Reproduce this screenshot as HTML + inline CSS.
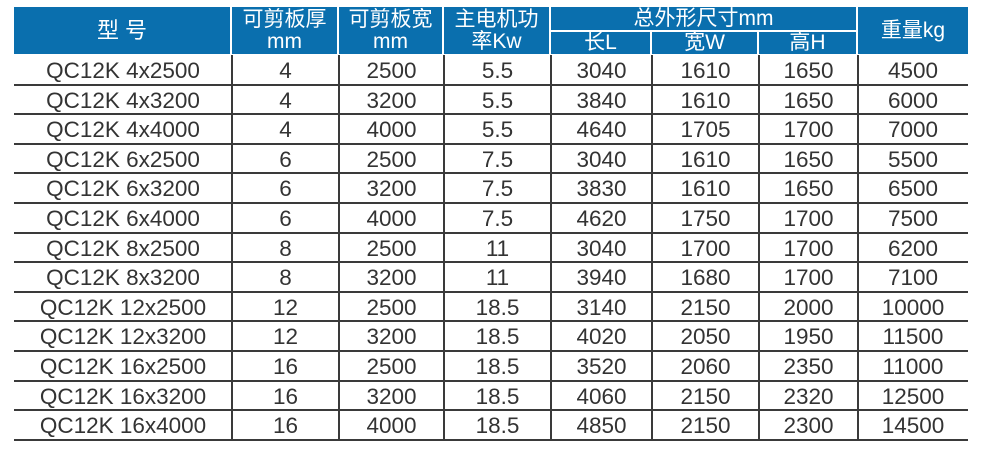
<!DOCTYPE html><html><head><meta charset="utf-8"><style>
body{margin:0;width:992px;height:450px;background:#fff;position:relative;overflow:hidden;font-family:"Liberation Sans","Noto Sans CJK SC",sans-serif}
.h{position:absolute;background:#0a6fae;color:#fff;text-align:center;font-size:21px;line-height:22px;box-sizing:border-box}
.c{position:absolute;text-align:center;font-size:22.5px;color:#333;height:30px;line-height:30px}
.hl{position:absolute;left:14px;width:954px;height:2px;background:#3a3a3a}
.vl{position:absolute;width:2px;background:#3a3a3a;top:55px;height:385px}
</style></head><body>
<div class="h" style="left:14px;top:7px;width:216px;height:47px;line-height:47px;font-size:22px">型 号</div>
<div class="h" style="left:232px;top:7px;width:105px;height:47px;padding-top:2px">可剪板厚<br>mm</div>
<div class="h" style="left:339px;top:7px;width:103px;height:47px;padding-top:2px">可剪板宽<br>mm</div>
<div class="h" style="left:444px;top:7px;width:105px;height:47px;padding-top:2px">主电机功<br>率Kw</div>
<div class="h" style="left:551px;top:7px;width:305px;height:23px;line-height:23px">总外形尺寸mm</div>
<div class="h" style="left:551px;top:32px;width:99px;height:22px">长L</div>
<div class="h" style="left:652px;top:32px;width:105px;height:22px">宽W</div>
<div class="h" style="left:759px;top:32px;width:97px;height:22px">高H</div>
<div class="h" style="left:858px;top:7px;width:110px;height:47px;line-height:47px">重量kg</div>
<div id="t"></div>
<script>
var d=[["QC12K 4x2500",4,2500,5.5,3040,1610,1650,4500],["QC12K 4x3200",4,3200,5.5,3840,1610,1650,6000],["QC12K 4x4000",4,4000,5.5,4640,1705,1700,7000],["QC12K 6x2500",6,2500,7.5,3040,1610,1650,5500],["QC12K 6x3200",6,3200,7.5,3830,1610,1650,6500],["QC12K 6x4000",6,4000,7.5,4620,1750,1700,7500],["QC12K 8x2500",8,2500,11,3040,1700,1700,6200],["QC12K 8x3200",8,3200,11,3940,1680,1700,7100],["QC12K 12x2500",12,2500,18.5,3140,2150,2000,10000],["QC12K 12x3200",12,3200,18.5,4020,2050,1950,11500],["QC12K 16x2500",16,2500,18.5,3520,2060,2350,11000],["QC12K 16x3200",16,3200,18.5,4060,2150,2320,12500],["QC12K 16x4000",16,4000,18.5,4850,2150,2300,14500]];
var x=[14,232,339,444,551,652,759,858,968],h="";
for(var i=0;i<13;i++){var y=55+i*29.6;
for(var j=0;j<8;j++)h+='<div class="c" style="left:'+x[j]+'px;width:'+(x[j+1]-x[j])+'px;top:'+(y+1)+'px">'+d[i][j]+'</div>';
h+='<div class="hl" style="top:'+(y+28.6)+'px"></div>';}
for(var j=1;j<8;j++)h+='<div class="vl" style="left:'+(x[j]-1)+'px"></div>';
document.getElementById("t").innerHTML=h;
</script></body></html>
